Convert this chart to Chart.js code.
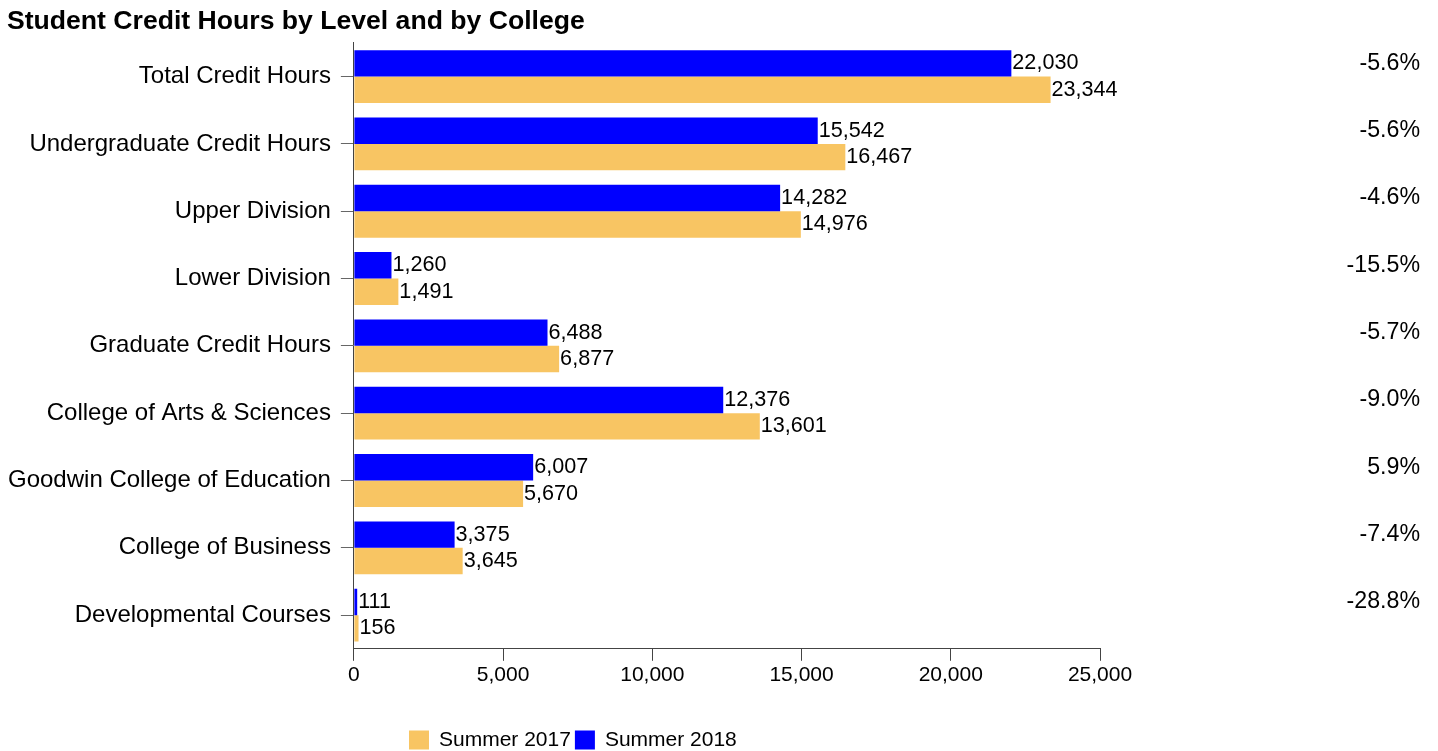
<!DOCTYPE html>
<html>
<head>
<meta charset="utf-8">
<script src="https://cdn.jsdelivr.net/npm/chart.js@4"></script>
<style>
  body { margin: 0; background: #fff; }
  #wrap { width: 1438px; height: 751px; }
</style>
</head>
<body>
<div id="wrap"><canvas id="chart"></canvas></div>
<script>
// Données du graphique
const categories = [
  'Total Credit Hours',
  'Undergraduate Credit Hours',
  'Upper Division',
  'Lower Division',
  'Graduate Credit Hours',
  'College of Arts & Sciences',
  'Goodwin College of Education',
  'College of Business',
  'Developmental Courses'
];
const summer2018 = [22030, 15542, 14282, 1260, 6488, 12376, 6007, 3375, 111];
const summer2017 = [23344, 16467, 14976, 1491, 6877, 13601, 5670, 3645, 156];
const pctChange = ['-5.6%', '-5.6%', '-4.6%', '-15.5%', '-5.7%', '-9.0%', '5.9%', '-7.4%', '-28.8%'];
const xTicks = [0, 5000, 10000, 15000, 20000, 25000];

const FONT = '"Liberation Sans", Arial, sans-serif';

// Valeurs au bout des barres + variation à droite
const valueLabels = {
  id: 'valueLabels',
  afterDatasetsDraw(chart) {
    const ctx = chart.ctx;
    ctx.save();
    ctx.fillStyle = '#000';
    ctx.textBaseline = 'middle';
    ctx.textAlign = 'left';
    ctx.font = '21.6px ' + FONT;
    chart.data.datasets.forEach((ds, i) => {
      chart.getDatasetMeta(i).data.forEach((bar, j) => {
        ctx.fillText(ds.data[j].toLocaleString('en-US'), bar.x + 1, bar.y);
      });
    });
    ctx.font = '23.2px ' + FONT;
    ctx.textAlign = 'right';
    chart.getDatasetMeta(0).data.forEach((bar, j) => {
      ctx.fillText(pctChange[j], chart.width - 18, bar.y);
    });
    ctx.restore();
  }
};

// Légende en bas
const bottomLegend = {
  id: 'bottomLegend',
  afterDraw(chart) {
    const ctx = chart.ctx;
    ctx.save();
    ctx.font = '21px ' + FONT;
    ctx.textBaseline = 'middle';
    ctx.textAlign = 'left';
    let x = 409;
    const y = 740;
    chart.data.datasets.slice().reverse().forEach(ds => {
      ctx.fillStyle = ds.backgroundColor;
      ctx.fillRect(x, y - 9.5, 20, 19);
      ctx.fillStyle = '#000';
      ctx.fillText(ds.label, x + 30, y);
      x += 30 + ctx.measureText(ds.label).width + 4;
    });
    ctx.restore();
  }
};

new Chart(document.getElementById('chart'), {
  type: 'bar',
  data: {
    labels: categories,
    datasets: [
      { label: 'Summer 2018', data: summer2018, backgroundColor: '#0000FF' },
      { label: 'Summer 2017', data: summer2017, backgroundColor: '#F8C563' }
    ]
  },
  options: {
    indexAxis: 'y',
    responsive: true,
    maintainAspectRatio: false,
    animation: false,
    categoryPercentage: 0.785,
    barPercentage: 1,
    layout: { padding: { left: 7, right: 338, top: 0, bottom: 61 } },
    plugins: {
      legend: { display: false },
      tooltip: { enabled: false },
      title: {
        display: true,
        text: 'Student Credit Hours by Level and by College',
        align: 'start',
        color: '#000',
        font: { family: FONT, size: 26.6, weight: 'bold' },
        padding: { top: 6, bottom: 5 }
      }
    },
    scales: {
      x: {
        min: 0,
        max: 25000,
        afterBuildTicks: axis => { axis.ticks = xTicks.map(v => ({ value: v })); },
        grid: { display: true, drawOnChartArea: false, drawTicks: true, tickLength: 12, color: '#444' },
        border: { display: true, color: '#444' },
        ticks: { color: '#000', padding: 2, font: { family: FONT, size: 21 } }
      },
      y: {
        afterFit: axis => { axis.width -= 9; },
        grid: { display: true, offset: false, drawOnChartArea: false, drawTicks: true, tickLength: 13, color: '#666' },
        border: { display: true, color: '#444' },
        ticks: { color: '#000', padding: 10, font: { family: FONT, size: 24 } }
      }
    }
  },
  plugins: [valueLabels, bottomLegend]
});
</script>
</body>
</html>
